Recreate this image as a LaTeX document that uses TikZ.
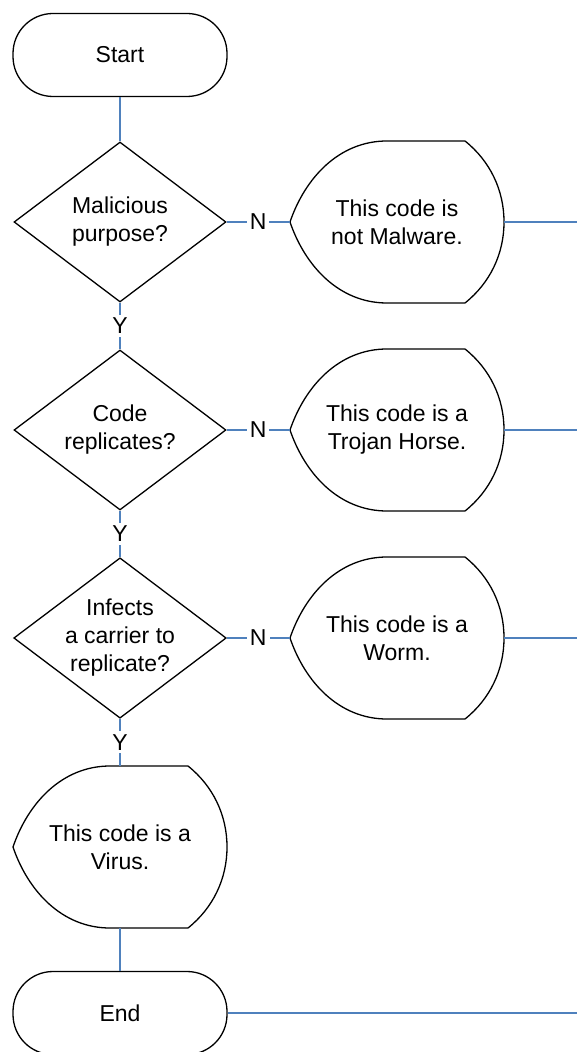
\documentclass[tikz,border=0pt]{standalone}
\usepackage{fontspec}
\setmainfont{Liberation Sans}
\usetikzlibrary{shapes.geometric}
\definecolor{flowblue}{RGB}{79,129,189}
\begin{document}
\begin{tikzpicture}[x=0.5pt,y=-0.5pt,
        font=\fontsize{11.5}{14}\selectfont,
        terminal/.style={draw,line width=0.65pt,rounded corners=20pt,minimum width=107pt,minimum height=41.5pt},
        decision/.style={draw,diamond,line width=0.65pt,inner sep=0pt,shape aspect=1.325,minimum width=106pt,minimum height=80pt,align=center},
        outcome/.style={minimum width=107pt,minimum height=81pt,inner sep=0pt,align=center},
        link/.style={flowblue,line width=0.65pt},
        answer/.style={fill=white,text=black,inner sep=1.5pt}]
        \useasboundingbox (0,0) rectangle (577,1052);
        \clip (0,0) rectangle (577,1052);
        \node[terminal] (start) at (120,55) {Start};
        \node[decision] (q1) at (120,222) {Malicious\\purpose?};
        \node[decision] (q2) at (120,430) {Code\\replicates?};
        \node[decision] (q3) at (120,638) {Infects\\a carrier to\\replicate?};
        \node[outcome] (r1) at (397,222) {This code is\\not Malware.};
        \node[outcome] (r2) at (397,430) {This code is a\\Trojan Horse.};
        \node[outcome] (r3) at (397,638) {This code is a\\Worm.};
        \node[outcome] (virus) at (120,847) {This code is a\\Virus.};
        \node[terminal] (end) at (120,1013) {End};
        \coordinate (out1) at (577,222);
        \coordinate (out2) at (577,430);
        \coordinate (out3) at (577,638);
        \coordinate (out4) at (577,1013);
        \foreach \n in {r1,r2,r3,virus}
            \draw[line width=0.65pt,shift={(\n.center)}] (-107,0) .. controls (-92,-44) and (-58,-81) .. (-10,-81) -- (68,-81)
                .. controls (93,-61) and (107,-32) .. (107,0) .. controls (107,32) and (93,61) .. (68,81) -- (-10,81)
                .. controls (-58,81) and (-92,44) .. cycle;
        \draw[link] (start) -- (q1);
        \draw[link] (q1) -- node[answer] {Y} (q2);
        \draw[link] (q2) -- node[answer] {Y} (q3);
        \draw[link] (q3) -- node[answer] {Y} (virus);
        \draw[link] (virus) -- (end);
        \draw[link] (q1) -- node[answer] {N} (r1);
        \draw[link] (q2) -- node[answer] {N} (r2);
        \draw[link] (q3) -- node[answer] {N} (r3);
        \draw[link] (r1) -- (out1);
        \draw[link] (r2) -- (out2);
        \draw[link] (r3) -- (out3);
        \draw[link] (end) -- (out4);
    \end{tikzpicture}
\end{document}
